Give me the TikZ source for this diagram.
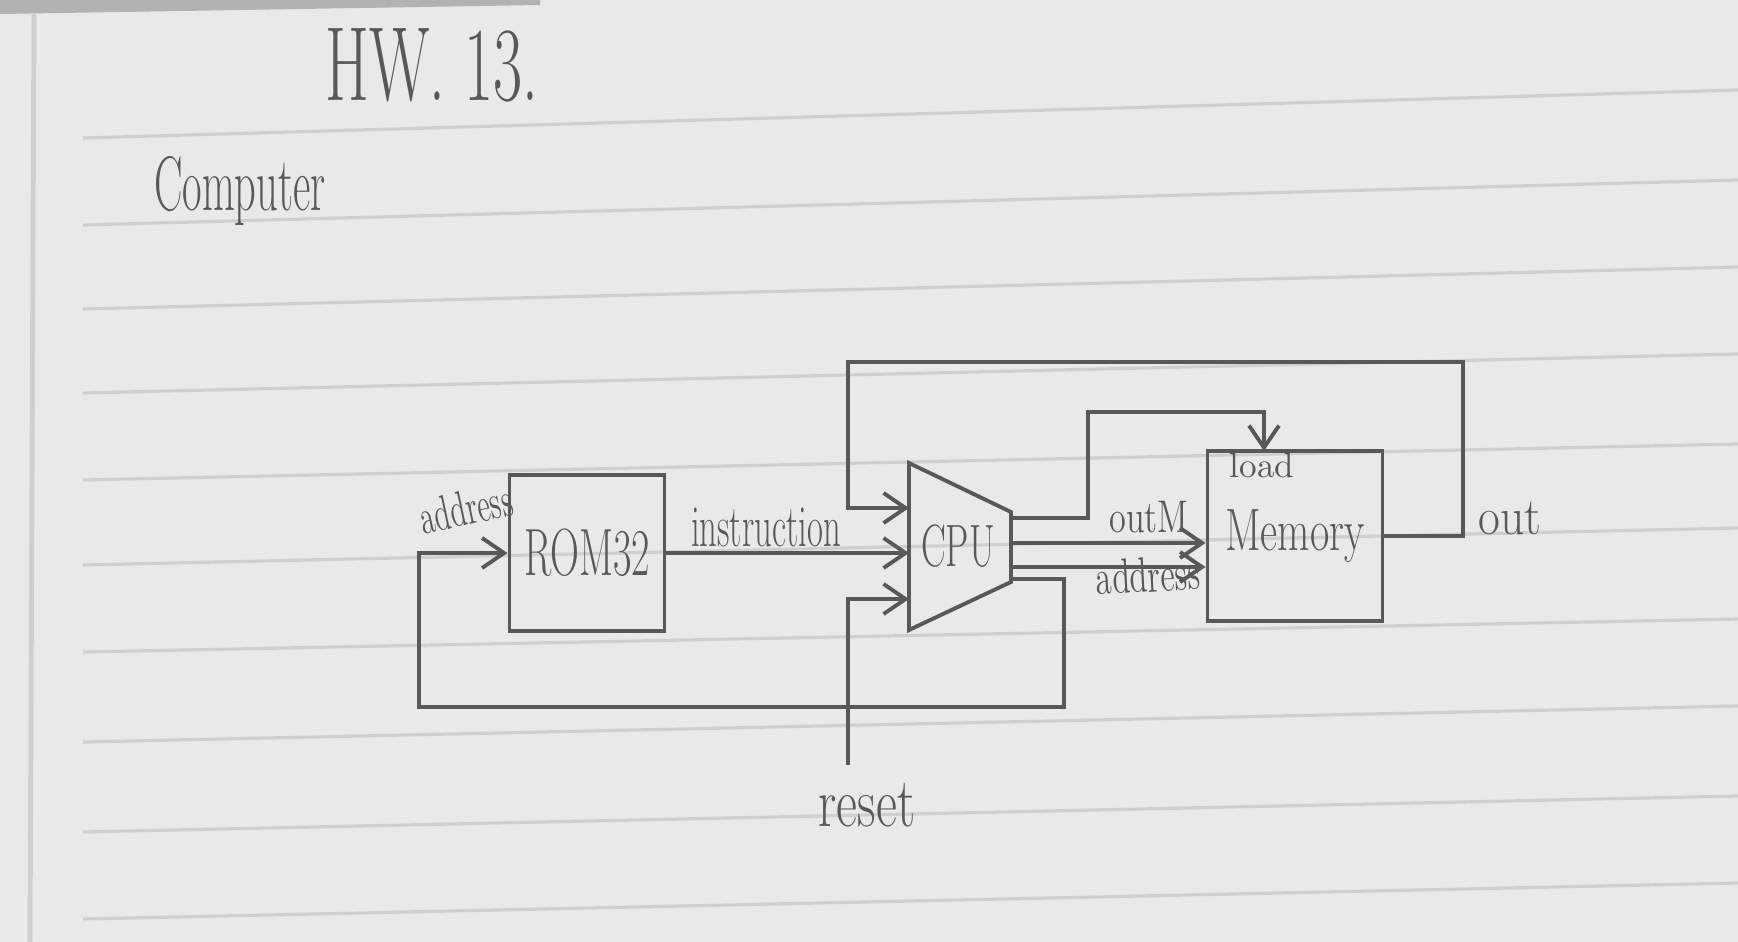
\documentclass[tikz,border=0pt]{standalone}
\usepackage{tikz}
\usetikzlibrary{arrows.meta,positioning}
\definecolor{pencil}{RGB}{88,88,88}
\definecolor{paper}{RGB}{233,233,231}
\definecolor{ruling}{RGB}{207,207,205}
\newcommand{\narrow}[2]{\scalebox{#1}[1]{#2}}

\begin{document}
\begin{tikzpicture}[
  x=0.01cm, y=-0.01cm,
  wire/.style={draw=pencil, line width=1.1pt},
  sig/.style={wire, -{Straight Barb[length=2.2mm, width=3mm]}},
  chip/.style={draw=pencil, line width=1.1pt, rectangle, inner sep=0pt, text=pencil},
  lab/.style={text=pencil, inner sep=0pt, anchor=base}
]
\useasboundingbox (0,0) rectangle (1738,942);
\fill[paper] (0,0) rectangle (1738,942);
\fill[gray!60] (0,0) -- (540,0) -- (540,5) -- (0,14) -- cycle;
\draw[ruling, line width=1.4pt] (34,14) -- (30,942);
\foreach \yl/\yr in {138/90, 225/180, 309/267, 393/354, 480/444, 565/528, 652/619, 742/706, 832/796, 919/883}
  \draw[ruling, line width=0.9pt] (83,\yl) -- (1738,\yr);

\node[lab, font=\fontsize{30}{30}\selectfont] (title) at (432,100) {\narrow{0.6}{HW. 13.}};
\node[lab, font=\fontsize{22}{22}\selectfont] (head) at (240,210) {\narrow{0.55}{Computer}};

\node[chip, minimum width=1.55cm, minimum height=1.56cm, font=\fontsize{19}{19}\selectfont] (rom) at (587,553) {\narrow{0.6}{ROM32}};
\node[chip, minimum width=1.75cm, minimum height=1.70cm, font=\fontsize{17}{17}\selectfont] (mem) at (1295,536) {\narrow{0.7}{Memory}};
\node[text=pencil, inner sep=0pt, font=\fontsize{17}{17}\selectfont] (cpu) at (958,546) {\narrow{0.62}{CPU}};

\coordinate (cpu-nw) at (909,463);
\coordinate (cpu-ne) at (1011,512);
\coordinate (cpu-se) at (1011,582);
\coordinate (cpu-sw) at (909,630);
\draw[wire] (cpu-nw) -- (cpu-ne) -- (cpu-se) -- (cpu-sw) -- cycle;

\coordinate (cpu-a) at (909,508);
\coordinate (cpu-i) at (909,553);
\coordinate (cpu-r) at (909,599);
\coordinate (cpu-w) at (1011,518);
\coordinate (cpu-o) at (1011,543);
\coordinate (cpu-m) at (1011,567);
\coordinate (cpu-p) at (1011,579);
\coordinate (mem-l) at (1264,451);
\coordinate (rst) at (848,765);

\draw[sig] (rom.east) -- (cpu-i);
\draw[sig] (cpu-o) -- (cpu-o -| mem.west);
\draw[sig] (cpu-m) -- (cpu-m -| mem.west);
\draw[sig] (cpu-w) -| (1088,412) -| (mem-l);
\draw[sig] (mem.east) -| (1463,362) -| (848,508) -- (cpu-a);
\draw[sig] (rst) |- (cpu-r);
\draw[sig] (cpu-p) -| (1064,707) -| (419,553) -- (rom.west);

\node[lab, font=\fontsize{14}{14}\selectfont, rotate=12, anchor=center] (romaddr) at (466,508) {\narrow{0.6}{address}};
\node[lab, font=\fontsize{17}{17}\selectfont] (instr) at (766,546) {\narrow{0.58}{instruction}};
\node[lab, font=\fontsize{13}{13}\selectfont] (outm) at (1149,532) {\narrow{0.75}{outM}};
\node[lab, font=\fontsize{14}{14}\selectfont, rotate=3] (memaddr) at (1149,592) {\narrow{0.67}{address}};
\node[lab, font=\fontsize{10}{10}\selectfont] (load) at (1262,477) {load};
\node[lab, font=\fontsize{15}{15}\selectfont] (out) at (1510,534) {\narrow{0.9}{out}};
\node[lab, font=\fontsize{20}{20}\selectfont] (reset) at (867,826) {\narrow{0.73}{reset}};
\end{tikzpicture}
\end{document}
